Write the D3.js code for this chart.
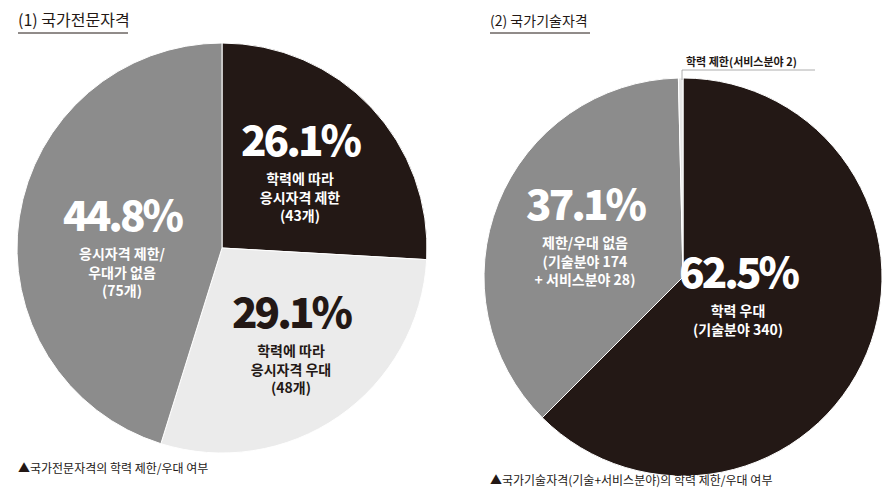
<!DOCTYPE html>
<html>
<head>
<meta charset="utf-8">
<script src="https://cdn.jsdelivr.net/npm/d3@7"></script>
<style>
  body { margin: 0; background: #fff; }
  text { font-family: "Noto Sans CJK KR", sans-serif; }
</style>
</head>
<body>
<script>
// (1) 국가전문자격
const proCategories = ["학력 제한", "학력 우대", "제한/우대 없음"];
const proValues = [43, 48, 75];
const proPercent = ["26.1%", "29.1%", "44.8%"];
const proLabels = [
  ["학력에 따라", "응시자격 제한", "(43개)"],
  ["학력에 따라", "응시자격 우대", "(48개)"],
  ["응시자격 제한/", "우대가 없음", "(75개)"]
];

// (2) 국가기술자격
const techCategories = ["학력 우대", "제한/우대 없음", "학력 제한"];
const techValues = [340, 202, 2];
const techPercent = ["62.5%", "37.1%", ""];
const techLabels = [
  ["학력 우대", "(기술분야 340)"],
  ["제한/우대 없음", "(기술분야 174", "+ 서비스분야 28)"],
  []
];

const w = 896, h = 499;
const svg = d3.select("body").append("svg").attr("width", w).attr("height", h);

function drawPie(cx, cy, r, values, colors, textColors, percents, labels, labelPos, strokeColor) {
  const g = svg.append("g").attr("transform", "translate(" + cx + "," + cy + ")");
  const pie = d3.pie().sort(null).value(d => d);
  const arc = d3.arc().innerRadius(0).outerRadius(r);
  g.selectAll("path").data(pie(values)).enter().append("path")
    .attr("d", arc)
    .attr("fill", (d, i) => colors[i])
    .attr("stroke", strokeColor).attr("stroke-width", 1);
  values.forEach((v, i) => {
    if (!percents[i]) return;
    const [lx, ly] = labelPos[i];
    g.append("text").attr("x", lx).attr("y", ly).attr("text-anchor", "middle")
      .attr("font-size", 42).attr("font-weight", 900).attr("fill", textColors[i])
      .attr("letter-spacing", -3)
      .attr("font-family", "Roboto, sans-serif").text(percents[i]);
    labels[i].forEach((t, j) => {
      g.append("text").attr("x", lx).attr("y", ly + 28 + j * 18.5).attr("text-anchor", "middle")
        .attr("font-size", 14).attr("font-weight", 700).attr("fill", textColors[i]).text(t);
    });
  });
}

// left pie
drawPie(222, 248, 205, proValues, ["#231815", "#ebebeb", "#8c8c8c"],
  ["#fff", "#231815", "#fff"], proPercent, proLabels,
  [[78, -92], [69, 80], [-100, -17]], "#fff");

// right pie
drawPie(683, 277, 199, techValues, ["#231815", "#8c8c8c", "#e6e6e6"],
  ["#fff", "#fff", "#231815"], techPercent, techLabels,
  [[55, 11], [-98, -57], [0, 0]], "#fff");

// titles
svg.append("text").attr("x", 18).attr("y", 26).attr("font-size", 16).attr("fill", "#231815").text("(1) 국가전문자격");
svg.append("line").attr("x1", 18).attr("x2", 128).attr("y1", 33).attr("y2", 33).attr("stroke", "#231815");
svg.append("text").attr("x", 490).attr("y", 26).attr("font-size", 14).attr("fill", "#231815").text("(2) 국가기술자격");
svg.append("line").attr("x1", 490).attr("x2", 590).attr("y1", 33).attr("y2", 33).attr("stroke", "#231815");

// small slice callout
svg.append("polyline").attr("points", "682,80 682,70 815,70").attr("fill", "none").attr("stroke", "#999").attr("stroke-width", 0.8);
svg.append("text").attr("x", 686).attr("y", 66).attr("font-size", 11).attr("font-weight", 700).attr("fill", "#231815").text("학력 제한(서비스분야 2)");

// captions
svg.append("text").attr("x", 18).attr("y", 473).attr("font-size", 12).attr("fill", "#231815").text("▲국가전문자격의 학력 제한/우대 여부");
svg.append("text").attr("x", 490).attr("y", 485).attr("font-size", 12).attr("fill", "#231815").text("▲국가기술자격(기술+서비스분야)의 학력 제한/우대 여부");
</script>
</body>
</html>
